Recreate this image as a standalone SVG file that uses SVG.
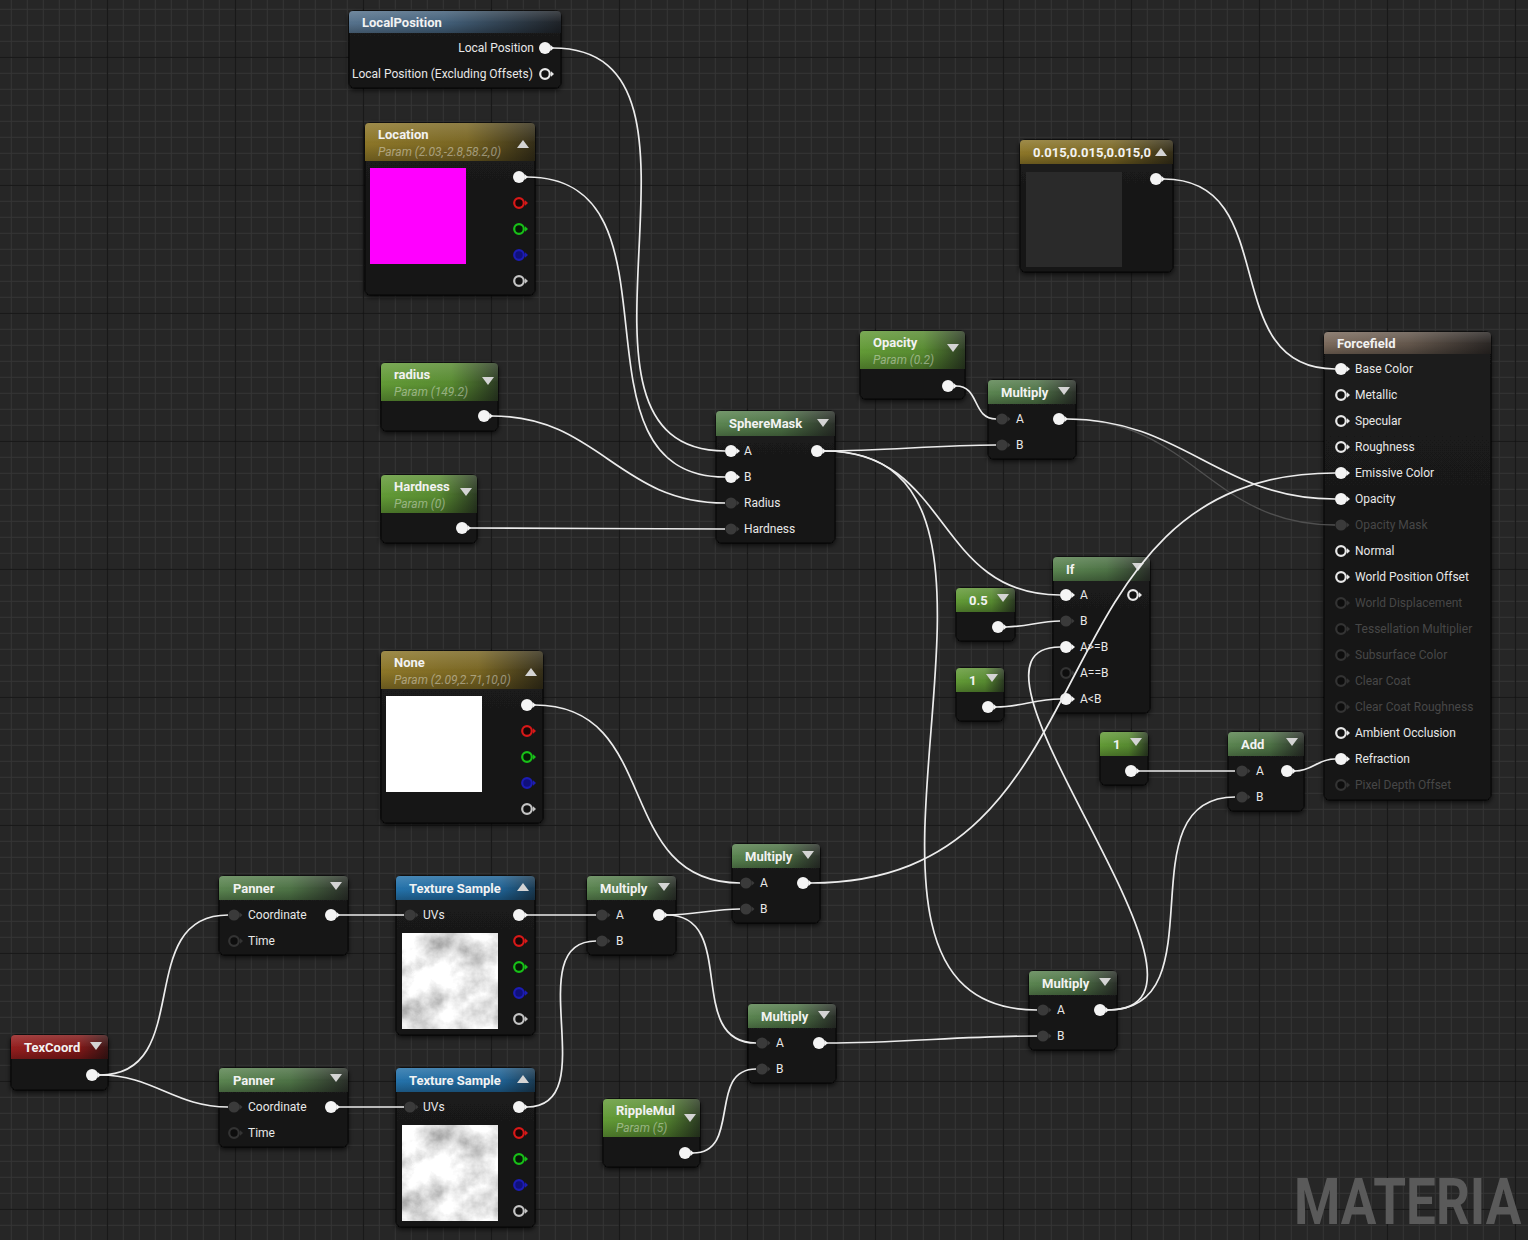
<svg xmlns="http://www.w3.org/2000/svg" width="1528" height="1240" viewBox="0 0 1528 1240">
<style>
.body{fill:url(#gBody);stroke:#080808;stroke-width:1;filter:url(#sh)}
.gl{fill:url(#gGloss)}
.hF{fill:url(#gFunc)}
.hP{fill:url(#gParam)}
.hG{fill:url(#gGold)}
.hB{fill:url(#gBlueLP)}
.hT{fill:url(#gBlueTS)}
.hR{fill:url(#gRed)}
.hN{fill:url(#gBrown)}
.t{font-family:Roboto,"Liberation Sans",sans-serif;font-size:13px;font-weight:700;fill:#f2f2f2}
.s{font-family:Roboto,"Liberation Sans",sans-serif;font-size:12px;font-style:italic;fill:#ffffff;fill-opacity:.42}
.l{font-family:Roboto,"Liberation Sans",sans-serif;font-size:12px;fill:#e8e8e8}
.ld{fill:#474747}
.tri{fill:#d4d4d4}
.w{fill:none;stroke:#ececec;stroke-width:1.7}
.wd{fill:none;stroke:#505050;stroke-width:1.3}
</style>
<defs>
<pattern id="g16" x="10.8" y="8.8" width="16" height="16" patternUnits="userSpaceOnUse"><path d="M0.5,0V16M0,0.5H16" stroke="#353535" stroke-width="1"/></pattern>
<pattern id="g128" x="106.8" y="56.8" width="128" height="128" patternUnits="userSpaceOnUse"><path d="M0.5,0V128M0,0.5H128" stroke="#131313" stroke-width="1.2"/></pattern>
<linearGradient id="gBody" x1="0" y1="0" x2="0" y2="1"><stop offset="0" stop-color="#1c1c1c"/><stop offset="1" stop-color="#131313"/></linearGradient>
<linearGradient id="gGloss" x1="0" y1="0" x2="0" y2="1"><stop offset="0" stop-color="#fff" stop-opacity=".16"/><stop offset=".45" stop-color="#fff" stop-opacity=".03"/><stop offset=".55" stop-color="#000" stop-opacity="0"/><stop offset="1" stop-color="#000" stop-opacity=".25"/></linearGradient>
<linearGradient id="gFunc" x1="0" y1="0" x2="1" y2="0"><stop offset="0" stop-color="#5a8450"/><stop offset=".55" stop-color="#4d7245"/><stop offset="1" stop-color="#2a2f29"/></linearGradient>
<linearGradient id="gParam" x1="0" y1="0" x2="1" y2="0"><stop offset="0" stop-color="#629a36"/><stop offset=".6" stop-color="#578a30"/><stop offset="1" stop-color="#2b3a22"/></linearGradient>
<linearGradient id="gGold" x1="0" y1="0" x2="1" y2="0"><stop offset="0" stop-color="#8c7628"/><stop offset=".6" stop-color="#786522"/><stop offset="1" stop-color="#332d18"/></linearGradient>
<linearGradient id="gBlueLP" x1="0" y1="0" x2="1" y2="0"><stop offset="0" stop-color="#56728c"/><stop offset=".45" stop-color="#43607a"/><stop offset="1" stop-color="#1e2227"/></linearGradient>
<linearGradient id="gBlueTS" x1="0" y1="0" x2="1" y2="0"><stop offset="0" stop-color="#2472aa"/><stop offset=".75" stop-color="#1f6294"/><stop offset="1" stop-color="#1a3a52"/></linearGradient>
<linearGradient id="gRed" x1="0" y1="0" x2="1" y2="0"><stop offset="0" stop-color="#951e1e"/><stop offset=".7" stop-color="#801818"/><stop offset="1" stop-color="#3a1414"/></linearGradient>
<linearGradient id="gBrown" x1="0" y1="0" x2="1" y2="0"><stop offset="0" stop-color="#7b6a5c"/><stop offset=".5" stop-color="#64574c"/><stop offset="1" stop-color="#2a2624"/></linearGradient>
<filter id="sh" x="-10%" y="-10%" width="125%" height="125%"><feDropShadow dx="0" dy="2" stdDeviation="2.5" flood-color="#000" flood-opacity=".7"/></filter>
<filter id="cloud" x="0" y="0" width="1" height="1"><feTurbulence type="fractalNoise" baseFrequency="0.034" numOctaves="5" seed="11"/><feColorMatrix type="matrix" values="1.25 0 0 0 0.18 1.25 0 0 0 0.18 1.25 0 0 0 0.18 0 0 0 0 1"/></filter>
<rect id="texImg" x="0" y="0" width="96" height="96" fill="#fff" filter="url(#cloud)"/>
<g id="pw"><circle r="6" fill="#f4f4f4"/><path d="M5.5,-3L9,0L5.5,3Z" fill="#f4f4f4"/></g>
<g id="ph"><circle r="4.8" fill="#121212" stroke="#e8e8e8" stroke-width="2.2"/><path d="M6,-2.8L9,0L6,2.8Z" fill="#e8e8e8"/></g>
<g id="pd"><circle r="5.6" fill="#3a3a3a"/><path d="M5.5,-2.8L8.5,0L5.5,2.8Z" fill="#3a3a3a"/></g>
<g id="pk"><circle r="4.8" fill="#0d0d0d" stroke="#333" stroke-width="2.2"/><path d="M6,-2.8L9,0L6,2.8Z" fill="#333"/></g>
<g id="pr"><circle r="4.8" fill="#1a0606" stroke="#d81818" stroke-width="2.2"/><path d="M6,-2.8L9,0L6,2.8Z" fill="#d81818"/></g>
<g id="pg"><circle r="4.8" fill="#061a06" stroke="#18c018" stroke-width="2.2"/><path d="M6,-2.8L9,0L6,2.8Z" fill="#18c018"/></g>
<g id="pb"><circle r="4.8" fill="#10107a" stroke="#1c1cb4" stroke-width="2.2"/><path d="M6,-2.8L9,0L6,2.8Z" fill="#1c1cb4"/></g>
<g id="pa"><circle r="4.8" fill="#121212" stroke="#c4c4c4" stroke-width="2.2"/><path d="M6,-2.8L9,0L6,2.8Z" fill="#c4c4c4"/></g>
</defs>

<rect width="1528" height="1240" fill="#262626"/>
<rect width="1528" height="1240" fill="url(#g16)"/>
<rect width="1528" height="1240" fill="url(#g128)"/>

<g id="nodes">
<g id="node-localposition">
<rect class="body" x="349" y="11" width="212" height="77" rx="5"/>
<path class="hB" d="M349,33V15Q349,11 353,11H557Q561,11 561,15V33Z"/><path class="gl" d="M349,33V15Q349,11 353,11H557Q561,11 561,15V33Z"/>
<text class="t" x="362" y="27">LocalPosition</text>
<text class="l" x="534" y="52" text-anchor="end">Local Position</text>
<text class="l" x="352" y="78">Local Position (Excluding Offsets)</text>
<use href="#pw" x="545" y="48"/><use href="#ph" x="545" y="74"/>
</g>

<g id="node-location">
<rect class="body" x="365" y="123" width="170" height="172" rx="5"/>
<path class="hG" d="M365,161V127Q365,123 369,123H531Q535,123 535,127V161Z"/><path class="gl" d="M365,161V127Q365,123 369,123H531Q535,123 535,127V161Z"/>
<text class="t" x="378" y="139">Location</text>
<text class="s" x="378" y="156">Param (2.03,-2.8,58.2,0)</text>
<polygon class="tri" points="517,148 529,148 523,140"/>
<rect x="370" y="168" width="96" height="96" fill="#ff00ff"/>
<use href="#pw" x="519" y="177"/><use href="#pr" x="519" y="203"/><use href="#pg" x="519" y="229"/><use href="#pb" x="519" y="255"/><use href="#pa" x="519" y="281"/>
</g>

<g id="node-radius">
<rect class="body" x="381" y="363" width="117" height="68" rx="5"/>
<path class="hP" d="M381,401V367Q381,363 385,363H494Q498,363 498,367V401Z"/><path class="gl" d="M381,401V367Q381,363 385,363H494Q498,363 498,367V401Z"/>
<text class="t" x="394" y="379">radius</text>
<text class="s" x="394" y="396">Param (149.2)</text>
<polygon class="tri" points="482,377 494,377 488,385"/>
<use href="#pw" x="484" y="416"/>
</g>

<g id="node-hardness">
<rect class="body" x="381" y="475" width="96" height="68" rx="5"/>
<path class="hP" d="M381,513V479Q381,475 385,475H473Q477,475 477,479V513Z"/><path class="gl" d="M381,513V479Q381,475 385,475H473Q477,475 477,479V513Z"/>
<text class="t" x="394" y="491">Hardness</text>
<text class="s" x="394" y="508">Param (0)</text>
<polygon class="tri" points="460,488 472,488 466,496"/>
<use href="#pw" x="462" y="528"/>
</g>

<g id="node-none">
<rect class="body" x="381" y="651" width="162" height="172" rx="5"/>
<path class="hG" d="M381,689V655Q381,651 385,651H539Q543,651 543,655V689Z"/><path class="gl" d="M381,689V655Q381,651 385,651H539Q543,651 543,655V689Z"/>
<text class="t" x="394" y="667">None</text>
<text class="s" x="394" y="684">Param (2.09,2.71,10,0)</text>
<polygon class="tri" points="525,676 537,676 531,668"/>
<rect x="386" y="696" width="96" height="96" fill="#ffffff"/>
<use href="#pw" x="527" y="705"/><use href="#pr" x="527" y="731"/><use href="#pg" x="527" y="757"/><use href="#pb" x="527" y="783"/><use href="#pa" x="527" y="809"/>
</g>

<g id="node-spheremask">
<rect class="body" x="716" y="411" width="119" height="132" rx="5"/>
<path class="hF" d="M716,436V415Q716,411 720,411H831Q835,411 835,415V436Z"/><path class="gl" d="M716,436V415Q716,411 720,411H831Q835,411 835,415V436Z"/>
<text class="t" x="729" y="428">SphereMask</text>
<polygon class="tri" points="817,419 829,419 823,427"/>
<use href="#pw" x="731" y="451"/><use href="#pw" x="731" y="477"/><use href="#pd" x="731" y="503"/><use href="#pd" x="731" y="529"/><use href="#pw" x="817" y="451"/>
<text class="l" x="744" y="455">A</text><text class="l" x="744" y="481">B</text><text class="l" x="744" y="507">Radius</text><text class="l" x="744" y="533">Hardness</text>
</g>

<g id="node-opacity">
<rect class="body" x="860" y="331" width="105" height="68" rx="5"/>
<path class="hP" d="M860,369V335Q860,331 864,331H961Q965,331 965,335V369Z"/><path class="gl" d="M860,369V335Q860,331 864,331H961Q965,331 965,335V369Z"/>
<text class="t" x="873" y="347">Opacity</text>
<text class="s" x="873" y="364">Param (0.2)</text>
<polygon class="tri" points="947,344 959,344 953,352"/>
<use href="#pw" x="948" y="386"/>
</g>

<g id="node-multiply-top">
<rect class="body" x="988" y="380" width="88" height="79" rx="5"/>
<path class="hF" d="M988,404V384Q988,380 992,380H1072Q1076,380 1076,384V404Z"/><path class="gl" d="M988,404V384Q988,380 992,380H1072Q1076,380 1076,384V404Z"/>
<text class="t" x="1001" y="397">Multiply</text>
<polygon class="tri" points="1058,387 1070,387 1064,395"/>
<use href="#pd" x="1002" y="419"/><use href="#pd" x="1002" y="445"/><use href="#pw" x="1059" y="419"/>
<text class="l" x="1016" y="423">A</text><text class="l" x="1016" y="449">B</text>
</g>

<g id="node-constant3">
<rect class="body" x="1020" y="140" width="153" height="132" rx="5"/>
<path class="hG" d="M1020,164V144Q1020,140 1024,140H1169Q1173,140 1173,144V164Z"/><path class="gl" d="M1020,164V144Q1020,140 1024,140H1169Q1173,140 1173,144V164Z"/>
<text class="t" x="1033" y="157">0.015,0.015,0.015,0</text>
<polygon class="tri" points="1155,156 1167,156 1161,148"/>
<rect x="1026" y="172" width="96" height="95" fill="#2a2a2a"/>
<use href="#pw" x="1156" y="179"/>
</g>

<g id="node-forcefield">
<rect class="body" x="1324" y="332" width="167" height="468" rx="5"/>
<path class="hN" d="M1324,354V336Q1324,332 1328,332H1487Q1491,332 1491,336V354Z"/><path class="gl" d="M1324,354V336Q1324,332 1328,332H1487Q1491,332 1491,336V354Z"/>
<text class="t" x="1337" y="348">Forcefield</text>
<use href="#pw" x="1341" y="369"/><text class="l" x="1355" y="373">Base Color</text>
<use href="#ph" x="1341" y="395"/><text class="l" x="1355" y="399">Metallic</text>
<use href="#ph" x="1341" y="421"/><text class="l" x="1355" y="425">Specular</text>
<use href="#ph" x="1341" y="447"/><text class="l" x="1355" y="451">Roughness</text>
<use href="#pw" x="1341" y="473"/><text class="l" x="1355" y="477">Emissive Color</text>
<use href="#pw" x="1341" y="499"/><text class="l" x="1355" y="503">Opacity</text>
<use href="#pd" x="1341" y="525"/><text class="l ld" x="1355" y="529">Opacity Mask</text>
<use href="#ph" x="1341" y="551"/><text class="l" x="1355" y="555">Normal</text>
<use href="#ph" x="1341" y="577"/><text class="l" x="1355" y="581">World Position Offset</text>
<use href="#pk" x="1341" y="603"/><text class="l ld" x="1355" y="607">World Displacement</text>
<use href="#pk" x="1341" y="629"/><text class="l ld" x="1355" y="633">Tessellation Multiplier</text>
<use href="#pk" x="1341" y="655"/><text class="l ld" x="1355" y="659">Subsurface Color</text>
<use href="#pk" x="1341" y="681"/><text class="l ld" x="1355" y="685">Clear Coat</text>
<use href="#pk" x="1341" y="707"/><text class="l ld" x="1355" y="711">Clear Coat Roughness</text>
<use href="#ph" x="1341" y="733"/><text class="l" x="1355" y="737">Ambient Occlusion</text>
<use href="#pw" x="1341" y="759"/><text class="l" x="1355" y="763">Refraction</text>
<use href="#pk" x="1341" y="785"/><text class="l ld" x="1355" y="789">Pixel Depth Offset</text>
</g>

<g id="node-if">
<rect class="body" x="1053" y="557" width="97" height="156" rx="5"/>
<path class="hF" d="M1053,581V561Q1053,557 1057,557H1146Q1150,557 1150,561V581Z"/><path class="gl" d="M1053,581V561Q1053,557 1057,557H1146Q1150,557 1150,561V581Z"/>
<text class="t" x="1066" y="574">If</text>
<polygon class="tri" points="1132,563 1144,563 1138,571"/>
<use href="#pw" x="1066" y="595"/><use href="#pd" x="1066" y="621"/><use href="#pw" x="1066" y="647"/><use href="#pk" x="1066" y="673"/><use href="#pw" x="1066" y="699"/><use href="#ph" x="1133" y="595"/>
<text class="l" x="1080" y="599">A</text><text class="l" x="1080" y="625">B</text><text class="l" x="1080" y="651">A&gt;=B</text><text class="l" x="1080" y="677">A==B</text><text class="l" x="1080" y="703">A&lt;B</text>
</g>

<g id="node-const-05">
<rect class="body" x="956" y="588" width="59" height="53" rx="5"/>
<path class="hP" d="M956,612V592Q956,588 960,588H1011Q1015,588 1015,592V612Z"/><path class="gl" d="M956,612V592Q956,588 960,588H1011Q1015,588 1015,592V612Z"/>
<text class="t" x="969" y="605">0.5</text>
<polygon class="tri" points="997,594 1009,594 1003,602"/>
<use href="#pw" x="998" y="627"/>
</g>

<g id="node-const-1a">
<rect class="body" x="956" y="668" width="48" height="53" rx="5"/>
<path class="hP" d="M956,692V672Q956,668 960,668H1000Q1004,668 1004,672V692Z"/><path class="gl" d="M956,692V672Q956,668 960,668H1000Q1004,668 1004,672V692Z"/>
<text class="t" x="969" y="685">1</text>
<polygon class="tri" points="986,674 998,674 992,682"/>
<use href="#pw" x="988" y="707"/>
</g>

<g id="node-const-1b">
<rect class="body" x="1100" y="732" width="48" height="53" rx="5"/>
<path class="hP" d="M1100,756V736Q1100,732 1104,732H1144Q1148,732 1148,736V756Z"/><path class="gl" d="M1100,756V736Q1100,732 1104,732H1144Q1148,732 1148,736V756Z"/>
<text class="t" x="1113" y="749">1</text>
<polygon class="tri" points="1130,738 1142,738 1136,746"/>
<use href="#pw" x="1131" y="771"/>
</g>

<g id="node-add">
<rect class="body" x="1228" y="732" width="76" height="79" rx="5"/>
<path class="hF" d="M1228,756V736Q1228,732 1232,732H1300Q1304,732 1304,736V756Z"/><path class="gl" d="M1228,756V736Q1228,732 1232,732H1300Q1304,732 1304,736V756Z"/>
<text class="t" x="1241" y="749">Add</text>
<polygon class="tri" points="1286,738 1298,738 1292,746"/>
<use href="#pd" x="1242" y="771"/><use href="#pd" x="1242" y="797"/><use href="#pw" x="1287" y="771"/>
<text class="l" x="1256" y="775">A</text><text class="l" x="1256" y="801">B</text>
</g>

<g id="node-multiply-mid">
<rect class="body" x="732" y="844" width="88" height="79" rx="5"/>
<path class="hF" d="M732,868V848Q732,844 736,844H816Q820,844 820,848V868Z"/><path class="gl" d="M732,868V848Q732,844 736,844H816Q820,844 820,848V868Z"/>
<text class="t" x="745" y="861">Multiply</text>
<polygon class="tri" points="802,851 814,851 808,859"/>
<use href="#pd" x="746" y="883"/><use href="#pd" x="746" y="909"/><use href="#pw" x="803" y="883"/>
<text class="l" x="760" y="887">A</text><text class="l" x="760" y="913">B</text>
</g>

<g id="node-multiply-left">
<rect class="body" x="587" y="876" width="89" height="79" rx="5"/>
<path class="hF" d="M587,900V880Q587,876 591,876H672Q676,876 676,880V900Z"/><path class="gl" d="M587,900V880Q587,876 591,876H672Q676,876 676,880V900Z"/>
<text class="t" x="600" y="893">Multiply</text>
<polygon class="tri" points="658,883 670,883 664,891"/>
<use href="#pd" x="602" y="915"/><use href="#pd" x="602" y="941"/><use href="#pw" x="659" y="915"/>
<text class="l" x="616" y="919">A</text><text class="l" x="616" y="945">B</text>
</g>

<g id="node-multiply-lower">
<rect class="body" x="748" y="1004" width="88" height="79" rx="5"/>
<path class="hF" d="M748,1028V1008Q748,1004 752,1004H832Q836,1004 836,1008V1028Z"/><path class="gl" d="M748,1028V1008Q748,1004 752,1004H832Q836,1004 836,1008V1028Z"/>
<text class="t" x="761" y="1021">Multiply</text>
<polygon class="tri" points="818,1011 830,1011 824,1019"/>
<use href="#pd" x="762" y="1043"/><use href="#pd" x="762" y="1069"/><use href="#pw" x="819" y="1043"/>
<text class="l" x="776" y="1047">A</text><text class="l" x="776" y="1073">B</text>
</g>

<g id="node-multiply-br">
<rect class="body" x="1029" y="971" width="88" height="79" rx="5"/>
<path class="hF" d="M1029,995V975Q1029,971 1033,971H1113Q1117,971 1117,975V995Z"/><path class="gl" d="M1029,995V975Q1029,971 1033,971H1113Q1117,971 1117,975V995Z"/>
<text class="t" x="1042" y="988">Multiply</text>
<polygon class="tri" points="1099,978 1111,978 1105,986"/>
<use href="#pd" x="1043" y="1010"/><use href="#pd" x="1043" y="1036"/><use href="#pw" x="1100" y="1010"/>
<text class="l" x="1057" y="1014">A</text><text class="l" x="1057" y="1040">B</text>
</g>

<g id="node-ripplemul">
<rect class="body" x="603" y="1099" width="97" height="68" rx="5"/>
<path class="hP" d="M603,1137V1103Q603,1099 607,1099H696Q700,1099 700,1103V1137Z"/><path class="gl" d="M603,1137V1103Q603,1099 607,1099H696Q700,1099 700,1103V1137Z"/>
<text class="t" x="616" y="1115">RippleMul</text>
<text class="s" x="616" y="1132">Param (5)</text>
<polygon class="tri" points="684,1114 696,1114 690,1122"/>
<use href="#pw" x="685" y="1153"/>
</g>

<g id="node-texcoord">
<rect class="body" x="11" y="1035" width="97" height="55" rx="5"/>
<path class="hR" d="M11,1059V1039Q11,1035 15,1035H104Q108,1035 108,1039V1059Z"/><path class="gl" d="M11,1059V1039Q11,1035 15,1035H104Q108,1035 108,1039V1059Z"/>
<text class="t" x="24" y="1052">TexCoord</text>
<polygon class="tri" points="90,1042 102,1042 96,1050"/>
<use href="#pw" x="92" y="1075"/>
</g>

<g id="node-panner-top">
<rect class="body" x="219" y="876" width="129" height="79" rx="5"/>
<path class="hF" d="M219,900V880Q219,876 223,876H344Q348,876 348,880V900Z"/><path class="gl" d="M219,900V880Q219,876 223,876H344Q348,876 348,880V900Z"/>
<text class="t" x="233" y="893">Panner</text>
<polygon class="tri" points="330,882 342,882 336,890"/>
<use href="#pd" x="234" y="915"/><use href="#pk" x="234" y="941"/><use href="#pw" x="331" y="915"/>
<text class="l" x="248" y="919">Coordinate</text><text class="l" x="248" y="945">Time</text>
</g>

<g id="node-panner-bottom">
<rect class="body" x="219" y="1068" width="129" height="79" rx="5"/>
<path class="hF" d="M219,1092V1072Q219,1068 223,1068H344Q348,1068 348,1072V1092Z"/><path class="gl" d="M219,1092V1072Q219,1068 223,1068H344Q348,1068 348,1072V1092Z"/>
<text class="t" x="233" y="1085">Panner</text>
<polygon class="tri" points="330,1074 342,1074 336,1082"/>
<use href="#pd" x="234" y="1107"/><use href="#pk" x="234" y="1133"/><use href="#pw" x="331" y="1107"/>
<text class="l" x="248" y="1111">Coordinate</text><text class="l" x="248" y="1137">Time</text>
</g>

<g id="node-texsample-top">
<rect class="body" x="396" y="876" width="139" height="159" rx="5"/>
<path class="hT" d="M396,900V880Q396,876 400,876H531Q535,876 535,880V900Z"/><path class="gl" d="M396,900V880Q396,876 400,876H531Q535,876 535,880V900Z"/>
<text class="t" x="409" y="893">Texture Sample</text>
<polygon class="tri" points="517,891 529,891 523,883"/>
<use href="#pd" x="410" y="915"/><text class="l" x="423" y="919">UVs</text>
<use href="#texImg" x="402" y="933"/>
<use href="#pw" x="519" y="915"/><use href="#pr" x="519" y="941"/><use href="#pg" x="519" y="967"/><use href="#pb" x="519" y="993"/><use href="#pa" x="519" y="1019"/>
</g>

<g id="node-texsample-bottom">
<rect class="body" x="396" y="1068" width="139" height="159" rx="5"/>
<path class="hT" d="M396,1092V1072Q396,1068 400,1068H531Q535,1068 535,1072V1092Z"/><path class="gl" d="M396,1092V1072Q396,1068 400,1068H531Q535,1068 535,1072V1092Z"/>
<text class="t" x="409" y="1085">Texture Sample</text>
<polygon class="tri" points="517,1083 529,1083 523,1075"/>
<use href="#pd" x="410" y="1107"/><text class="l" x="423" y="1111">UVs</text>
<use href="#texImg" x="402" y="1125"/>
<use href="#pw" x="519" y="1107"/><use href="#pr" x="519" y="1133"/><use href="#pg" x="519" y="1159"/><use href="#pb" x="519" y="1185"/><use href="#pa" x="519" y="1211"/>
</g>
</g>

<g id="connectors">
<path class="w" d="M553,48 C745,48 533,451 725,451"/>
<path class="w" d="M527,177 C693,177 559,477 725,477"/>
<path class="w" d="M492,416 C599,416 618,503 725,503"/>
<path class="w" d="M470,528 C555,528 640,529 725,529"/>
<path class="w" d="M825,451 C884,451 937,445 996,445"/>
<path class="w" d="M956,386 C980,386 972,419 996,419"/>
<path class="w" d="M825,451 C951,451 934,595 1060,595"/>
<path class="w" d="M825,451 C1082,451 780,1010 1037,1010"/>
<path class="w" d="M1108,1010 C1256,1010 930,647 1060,647"/>
<path class="w" d="M1006,627 C1026,627 1040,621 1060,621"/>
<path class="w" d="M996,707 C1020,707 1036,699 1060,699"/>
<path class="w" d="M1139,771 L1235,771"/>
<path class="w" d="M1295,771 C1313,771 1317,759 1335,759"/>
<path class="w" d="M1108,1010 C1221,1010 1122,797 1235,797"/>
<path class="wd" d="M1067,419 C1192,419 1210,525 1335,525"/>
<path class="w" d="M1067,419 C1183,419 1219,499 1335,499"/>
<path class="w" d="M1164,179 C1284,179 1215,369 1335,369"/>
<path class="w" d="M811,883 C1122,883 1024,473 1335,473"/>
<path class="w" d="M535,705 C663,705 612,883 740,883"/>
<path class="w" d="M667,915 C693,915 714,909 740,909"/>
<path class="w" d="M667,915 C739,915 684,1043 756,1043"/>
<path class="w" d="M693,1153 C742,1153 707,1069 756,1069"/>
<path class="w" d="M827,1043 C899,1043 965,1036 1037,1036"/>
<path class="w" d="M527,915 L596,915"/>
<path class="w" d="M527,1107 C605,1107 518,941 596,941"/>
<path class="w" d="M339,915 L404,915"/>
<path class="w" d="M339,1107 L404,1107"/>
<path class="w" d="M100,1075 C196,1075 132,915 228,915"/>
<path class="w" d="M100,1075 C153,1075 175,1107 228,1107"/>
</g>

<g id="watermark">
<text x="1294" y="0" transform="translate(0,1224) scale(1,1.22)" font-family="Roboto, 'Liberation Sans', sans-serif" font-weight="700" font-size="53" fill="#5a5a5a">MATERIA</text>
</g>
</svg>
